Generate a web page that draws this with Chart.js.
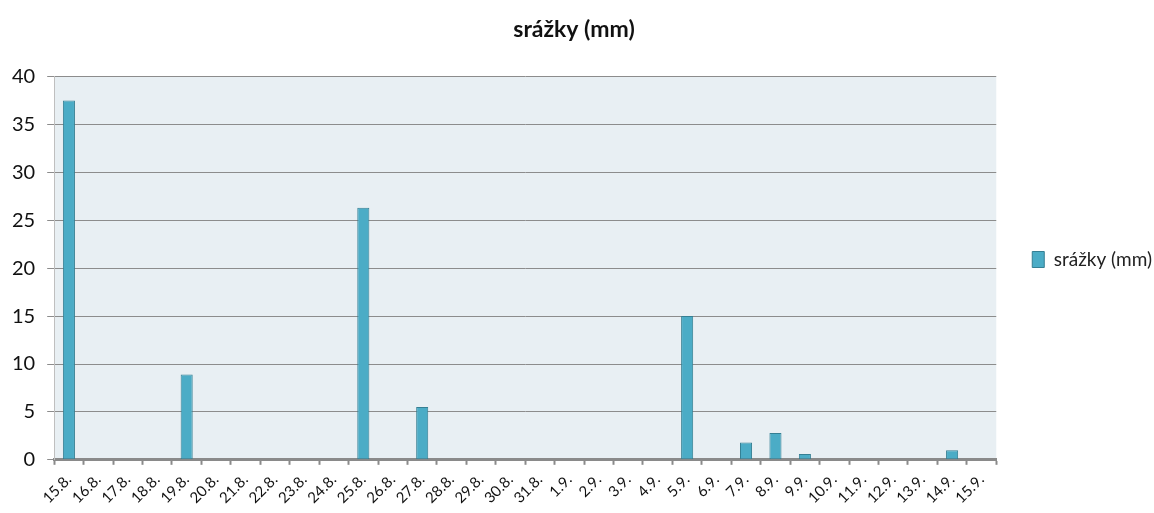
<!DOCTYPE html>
<html>
<head>
<meta charset="utf-8">
<script src="https://cdn.jsdelivr.net/npm/chart.js@4"></script>
<style>
  html, body { margin: 0; padding: 0; background: #ffffff; }
  #wrap { width: 1154px; height: 513px; }
</style>
</head>
<body>
<div id="wrap"><canvas id="c" width="1154" height="513"></canvas></div>
<script>
// Daily precipitation, 15.8. – 15.9.
const days = [
  '15.8.', '16.8.', '17.8.', '18.8.', '19.8.', '20.8.', '21.8.', '22.8.', '23.8.', '24.8.',
  '25.8.', '26.8.', '27.8.', '28.8.', '29.8.', '30.8.', '31.8.',
  '1.9.', '2.9.', '3.9.', '4.9.', '5.9.', '6.9.', '7.9.', '8.9.', '9.9.', '10.9.',
  '11.9.', '12.9.', '13.9.', '14.9.', '15.9.'
];
const rainfall = [
  37.5, 0, 0, 0, 8.9, 0, 0, 0, 0, 0,
  26.3, 0, 5.5, 0, 0, 0, 0,
  0, 0, 0, 0, 15.0, 0, 1.8, 2.8, 0.6, 0,
  0, 0, 0, 1.0, 0
];
const seriesName = 'srážky (mm)';
const yMin = 0, yMax = 40, yStep = 5;

const FONT = 'Lato, "Open Sans", "DejaVu Sans", sans-serif';

// fills the plotting area with a pale blue-grey background
const plotBackground = {
  id: 'plotBackground',
  beforeDraw(chart) {
    const { ctx, chartArea: a } = chart;
    ctx.save();
    ctx.fillStyle = '#E8EFF3';
    ctx.fillRect(a.left, a.top, a.right - a.left, a.bottom - a.top);
    ctx.restore();
  }
};

// nudges the legend a little to the right, away from the plot area
const legendShift = {
  id: 'legendShift',
  afterUpdate(chart) {
    const lg = chart.legend;
    if (!lg) return;
    lg.left += 14;
    lg.right += 14;
    lg.adjustHitBoxes();
  }
};

new Chart(document.getElementById('c'), {
  type: 'bar',
  data: {
    labels: days,
    datasets: [{
      label: seriesName,
      data: rainfall,
      backgroundColor: '#4BACC6',
      borderColor: '#357F93',
      borderWidth: 1,
      borderSkipped: false,
      barPercentage: 0.41,
      categoryPercentage: 1.0
    }]
  },
  options: {
    responsive: false,
    animation: false,
    layout: { padding: { left: 0, right: 6, top: 6, bottom: 0 } },
    plugins: {
      title: {
        display: true,
        text: seriesName,
        color: '#111',
        font: { family: FONT, size: 23, weight: 'bold' },
        padding: { top: 10, bottom: 33 }
      },
      legend: {
        position: 'right',
        labels: {
          color: '#222',
          font: { family: FONT, size: 19 },
          boxWidth: 12,
          boxHeight: 16,
          padding: 22
        }
      },
      tooltip: { enabled: false }
    },
    scales: {
      x: {
        offset: true,
        grid: {
          offset: true,
          drawOnChartArea: false,
          drawTicks: true,
          tickLength: 5,
          tickWidth: 2,
          tickColor: '#8A8A8A'
        },
        border: { display: true, color: '#8A8A8A', width: 3 },
        ticks: {
          autoSkip: false,
          maxRotation: 45,
          minRotation: 45,
          color: '#111',
          padding: 6,
          font: { family: FONT, size: 15 }
        }
      },
      y: {
        min: yMin,
        max: yMax,
        ticks: {
          stepSize: yStep,
          color: '#111',
          padding: 12,
          font: { family: FONT, size: 20 }
        },
        grid: {
          color: '#8C8C8C',
          lineWidth: 1,
          drawTicks: true,
          tickLength: 7,
          tickColor: '#8C8C8C'
        },
        border: { display: true, color: '#BFBFBF', width: 1 }
      }
    }
  },
  plugins: [plotBackground, legendShift]
});
</script>
</body>
</html>
